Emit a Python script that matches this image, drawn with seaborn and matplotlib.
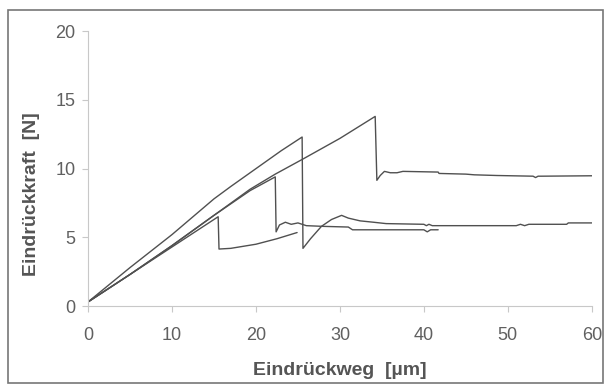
import numpy as np
import pandas as pd
import matplotlib
matplotlib.use('Agg')
import matplotlib.pyplot as plt
import seaborn as sns

# Eindrückversuche: Weg [µm] / Kraft [N]
weg_a = [0, 2, 5, 10, 15, 17, 20, 23, 25.5, 25.6, 26.5, 27.8, 29, 30.2, 31, 32.4, 34, 35.5,
         40, 40.3, 40.6, 41, 45, 51, 51.5, 52, 52.5, 57, 57.2, 60]
kraft_a = [0.3, 1.3, 2.8, 5.2, 7.8, 8.7, 10.0, 11.3, 12.3, 4.2, 4.9, 5.8, 6.3, 6.6, 6.4, 6.2, 6.1, 6.0,
           5.95, 5.85, 5.95, 5.85, 5.85, 5.85, 5.95, 5.85, 5.95, 5.95, 6.05, 6.05]

weg_b = [0, 2, 5, 10, 15, 19.3, 22.3, 22.4, 22.8, 23.5, 24.2, 25, 26, 28, 31, 31.5, 40, 40.4, 40.8, 41.7]
kraft_b = [0.3, 1.1, 2.3, 4.4, 6.6, 8.4, 9.4, 5.4, 5.9, 6.1, 5.95, 6.05, 5.85, 5.8, 5.75, 5.55,
           5.55, 5.4, 5.55, 5.55]

weg_c = [0, 2, 5, 10, 15.5, 15.6, 17, 20, 22.5, 24.9]
kraft_c = [0.3, 1.1, 2.3, 4.3, 6.5, 4.15, 4.2, 4.5, 4.9, 5.35]

weg_d = [0, 2, 5, 10, 15, 19.3, 22.3, 25.6, 30, 34.2, 34.4, 34.8, 35.3, 36, 36.8, 37.5, 41.7,
         41.8, 45, 46, 48.7, 53, 53.3, 53.6, 54, 60]
kraft_d = [0.3, 1.1, 2.3, 4.4, 6.6, 8.5, 9.6, 10.7, 12.2, 13.8, 9.15, 9.5, 9.8, 9.7, 9.7, 9.8, 9.75,
           9.65, 9.6, 9.55, 9.5, 9.45, 9.35, 9.45, 9.45, 9.48]

frames = []
for name, w, k in [('A', weg_a, kraft_a), ('B', weg_b, kraft_b),
                   ('C', weg_c, kraft_c), ('D', weg_d, kraft_d)]:
    frames.append(pd.DataFrame({'weg': w, 'kraft': k, 'probe': name}))
df = pd.concat(frames, ignore_index=True)

sns.set_style('ticks')
plt.rcParams['font.family'] = ['Liberation Sans', 'DejaVu Sans']

fig = plt.figure(figsize=(6.07, 3.85), dpi=100)
ax = fig.add_axes([0.145, 0.205, 0.83, 0.714])

sns.lineplot(data=df, x='weg', y='kraft', units='probe', estimator=None, sort=False,
             color='#505050', lw=1.0, ax=ax)

ax.set_xlim(0, 60)
ax.set_ylim(0, 20)
ax.set_xticks(np.arange(0, 61, 10))
ax.set_yticks(np.arange(0, 21, 5))
ax.set_xlabel('Eindrückweg  [µm]', fontsize=14, fontweight='bold', color='#555555')
ax.set_ylabel('Eindrückkraft  [N]', fontsize=14, fontweight='bold', color='#555555')
ax.xaxis.set_label_coords(0.5, -0.236)
ax.xaxis.label.set_verticalalignment('center')
ax.yaxis.set_label_coords(-0.113, 0.407)
ax.yaxis.label.set_verticalalignment('center')
ax.tick_params(colors='#c8c8c8', labelcolor='#606060', labelsize=13, length=4, width=0.8)
ax.tick_params(axis='x', pad=11)
ax.tick_params(axis='y', pad=5)
sns.despine(ax=ax)
for s in ['left', 'bottom']:
    ax.spines[s].set_color('#c8c8c8')
    ax.spines[s].set_linewidth(0.8)

# Rahmen um die ganze Grafik
fig.patches.append(plt.Rectangle((0.013, 0.005), 0.98, 0.968, transform=fig.transFigure,
                                 fill=False, edgecolor='#777777', lw=1.2))

fig.savefig('out.png', dpi=100)
